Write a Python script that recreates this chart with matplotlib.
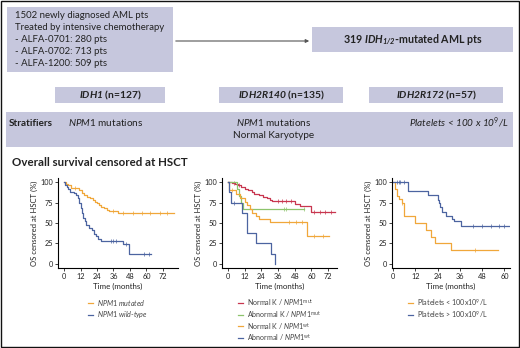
import numpy as np
import matplotlib
matplotlib.use('Agg')
import matplotlib.pyplot as plt
from matplotlib.patches import Rectangle

plt.rcParams['font.family'] = ['Lato', 'DejaVu Sans']
plt.rcParams['mathtext.fontset'] = 'custom'
plt.rcParams['mathtext.rm'] = 'Lato'
plt.rcParams['mathtext.it'] = 'Lato:italic'
plt.rcParams['mathtext.bf'] = 'Lato:bold'
plt.rcParams['mathtext.bfit'] = 'Lato:bold:italic'

# ---- data ----
cohort_lines = ['1502 newly diagnosed AML pts', 'Treated by intensive chemotherapy',
                '- ALFA-0701: 280 pts', '- ALFA-0702: 713 pts', '- ALFA-1200: 509 pts']
groups = [r'$\mathbfit{IDH1}$ (n=127)', r'$\mathbfit{IDH2R140}$ (n=135)', r'$\mathbfit{IDH2R172}$ (n=57)']

# panel 1 : IDH1
p1_mut_t = [0, 1.5, 3, 5, 11, 13, 14.5, 17, 19, 21, 22.5, 24, 25.5, 27, 29, 31, 33, 39]
p1_mut_s = [100, 98, 96, 93, 90, 87, 84, 82, 80, 78, 76, 74, 72, 70, 68, 66, 65, 62]
p1_mut_c = [8, 36, 43, 50, 57, 62.5, 70, 75]
p1_mut_end = 80
p1_wt_t = [0, 1, 2, 3, 4.5, 7, 9, 10, 11, 12, 13, 14, 15, 16, 18, 20, 22, 23.5, 25, 27, 43, 47.5]
p1_wt_s = [100, 97, 94, 91, 88, 86.5, 84, 80, 74, 68, 62, 56, 52, 48, 44, 41, 37, 34, 31, 28, 24, 12]
p1_wt_c = [34, 36, 38, 45, 58, 62]
p1_wt_end = 63

# panel 2 : IDH2R140
p2_nkmut_t = [0, 3, 5, 7, 9.5, 12, 14.5, 17, 19, 22, 25, 28, 30, 32, 48, 52, 59.5]
p2_nkmut_s = [100, 99, 97.6, 96, 94, 92, 90, 88, 86, 84, 82, 80, 78, 77, 73, 71, 63]
p2_nkmut_c = [4, 8, 36, 39, 42, 45, 62, 66, 70, 74]
p2_nkmut_end = 77
p2_akmut_t = [0, 6.5, 8, 9.5, 10.5]
p2_akmut_s = [100, 91.7, 83.3, 75, 66.7]
p2_akmut_c = [40, 42, 55]
p2_akmut_end = 55
p2_nkwt_t = [0, 1, 6, 9, 12, 14, 15.5, 17, 20, 22, 30, 56.5]
p2_nkwt_s = [100, 90, 85, 80, 76, 72, 67, 62, 58, 55, 51.6, 34]
p2_nkwt_c = [3, 44, 49, 53, 62, 68]
p2_nkwt_end = 73
p2_akwt_t = [0, 1, 2, 10, 14, 20, 31, 33.5]
p2_akwt_s = [100, 87.5, 75, 62.5, 37.5, 25, 12.5, 0]
p2_akwt_c = [4]
p2_akwt_end = 33.5

# panel 3 : IDH2R172
p3_lo_t = [0, 1, 2, 3.5, 5, 6, 12, 18, 20.5, 22.5, 31.5]
p3_lo_s = [100, 91.7, 83.3, 79, 75, 58.3, 50, 41.7, 33.3, 25, 16.7]
p3_lo_c = [5, 44]
p3_lo_end = 56.5
p3_hi_t = [0, 8, 19, 24, 25, 25.5, 26.5, 28.5, 32, 33, 36.5]
p3_hi_s = [100, 89, 84, 78, 74, 70, 63, 58, 55, 52, 46]
p3_hi_c = [2, 3, 4, 6, 43, 48, 53, 57, 60]
p3_hi_end = 62.5

ORANGE = '#F0A73A'
BLUE = '#4C64A0'
RED = '#C8364F'
GREEN = '#8DC46C'
BOX = '#C6C7DD'
TXT = '#222222'

W, H = 520, 348
fig = plt.figure(figsize=(W / 100, H / 100), dpi=100)
ax0 = fig.add_axes([0, 0, 1, 1])
ax0.set_xlim(0, W)
ax0.set_ylim(H, 0)
ax0.axis('off')

ax0.add_patch(Rectangle((1, 1), W - 2, H - 2, fill=False, ec='#111111', lw=1.0))

# cohort box
ax0.add_patch(Rectangle((7, 7), 166, 65, fc=BOX, ec='none'))
for i, ln in enumerate(cohort_lines):
    ax0.text(15, 16 + i * 11.8, ln, fontsize=6.9, color=TXT, va='center', ha='left')

ax0.annotate('', xy=(312, 41), xytext=(173, 41),
             arrowprops=dict(arrowstyle='-|>', color='#555555', lw=0.8, mutation_scale=5))
ax0.add_patch(Rectangle((312, 27), 201, 25, fc=BOX, ec='none'))
ax0.text(413, 40, r'319 $\mathbfit{IDH}_{\mathbfit{1/2}}$-mutated AML pts', fontsize=7.7,
         fontweight='bold', color=TXT, ha='center', va='center')

# group boxes
for (x0, x1), g in zip([(55, 165), (219, 343), (369, 503)], groups):
    ax0.add_patch(Rectangle((x0, 87), x1 - x0, 16, fc=BOX, ec='none'))
    ax0.text((x0 + x1) / 2, 95.5, g, fontsize=7.4, fontweight='bold', color=TXT,
             ha='center', va='center')

# stratifiers band
ax0.add_patch(Rectangle((6, 112), 507, 35, fc=BOX, ec='none'))
ax0.text(9, 123, 'Stratifiers', fontsize=7.2, fontweight='bold', color=TXT, va='center')
ax0.text(68, 123, r'$\mathit{NPM1}$ mutations', fontsize=7.2, color=TXT, va='center')
ax0.text(274, 123, r'$\mathit{NPM1}$ mutations', fontsize=7.2, color=TXT, va='center', ha='center')
ax0.text(274, 135, 'Normal Karyotype', fontsize=7.2, color=TXT, va='center', ha='center')
ax0.text(509, 123, r'Platelets < 100 x 10$^{\mathit{9}}$/L', fontsize=7.2, color=TXT,
         va='center', ha='right', style='italic')

ax0.text(12, 162, 'Overall survival censored at HSCT', fontsize=8.3, fontweight='bold',
         color=TXT, va='center')


def km(ax, t, s, cens, color, t_end):
    tt = list(t) + [t_end]
    ss = list(s) + [s[-1]]
    ax.step(tt, ss, where='post', color=color, lw=0.9)
    idx = np.searchsorted(t, cens, side='right') - 1
    ax.plot(cens, np.array(s)[idx], '|', color=color, ms=2.2, mew=0.5)


def make_ax(x0, x1, xlim, xticks):
    y0, y1 = 178, 268
    ax = fig.add_axes([x0 / W, 1 - y1 / H, (x1 - x0) / W, (y1 - y0) / H])
    ax.set_xlim(*xlim)
    ax.set_ylim(-5, 105)
    ax.set_yticks([0, 25, 50, 75, 100])
    ax.set_xticks(xticks)
    for sp in ['top', 'right']:
        ax.spines[sp].set_visible(False)
    for sp in ['left', 'bottom']:
        ax.spines[sp].set_linewidth(0.8)
    ax.tick_params(labelsize=5.3, length=2, width=0.6, pad=1.5, colors='#222222')
    ax.set_xlabel('Time (months)', fontsize=5.7, labelpad=2, color='#222222')
    ax.set_ylabel('OS censored at HSCT (%)', fontsize=5.5, labelpad=2, color='#222222')
    ax.patch.set_alpha(0)
    return ax


a1 = make_ax(58, 178, (-4.4, 83), [0, 12, 24, 36, 48, 60, 72])
km(a1, p1_mut_t, p1_mut_s, p1_mut_c, ORANGE, p1_mut_end)
km(a1, p1_wt_t, p1_wt_s, p1_wt_c, BLUE, p1_wt_end)

a2 = make_ax(222, 337, (-4.3, 78.4), [0, 12, 24, 36, 48, 60, 72])
km(a2, p2_nkmut_t, p2_nkmut_s, p2_nkmut_c, RED, p2_nkmut_end)
km(a2, p2_akmut_t, p2_akmut_s, p2_akmut_c, GREEN, p2_akmut_end)
km(a2, p2_nkwt_t, p2_nkwt_s, p2_nkwt_c, ORANGE, p2_nkwt_end)
km(a2, p2_akwt_t, p2_akwt_s, p2_akwt_c, BLUE, p2_akwt_end)

a3 = make_ax(392, 510, (-0.5, 63), [0, 12, 24, 36, 48, 60])
km(a3, p3_lo_t, p3_lo_s, p3_lo_c, ORANGE, p3_lo_end)
km(a3, p3_hi_t, p3_hi_s, p3_hi_c, BLUE, p3_hi_end)

# legends
def legend(x, y0, items, dy):
    for i, (lab, col) in enumerate(items):
        y = y0 + i * dy
        ax0.plot([x, x + 5], [y, y], color=col, lw=0.9)
        ax0.text(x + 9, y, lab, fontsize=5.1, color='#444444', va='center')

legend(88, 303, [(r'$\mathit{NPM1\ mutated}$', ORANGE), (r'$\mathit{NPM1\ wild}$-$\mathit{type}$', BLUE)], 11.5)
legend(238, 303, [(r'Normal K / $\mathit{NPM1}^{\mathrm{mut}}$', RED),
                  (r'Abnormal K / $\mathit{NPM1}^{\mathrm{mut}}$', GREEN),
                  (r'Normal K / $\mathit{NPM1}^{\mathrm{wt}}$', ORANGE),
                  (r'Abnormal / $\mathit{NPM1}^{\mathrm{wt}}$', BLUE)], 11.5)
legend(408, 303, [(r'Platelets < 100x10$^9$/L', ORANGE), (r'Platelets > 100x10$^9$/L', BLUE)], 11.5)

fig.savefig('out.png', dpi=100)
